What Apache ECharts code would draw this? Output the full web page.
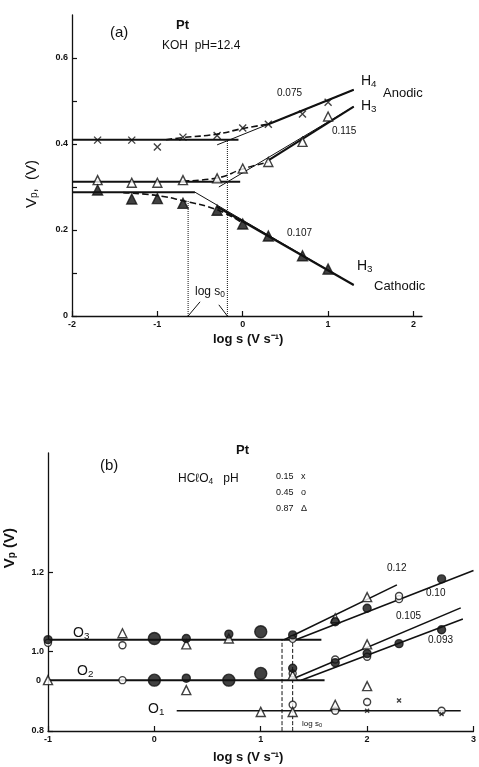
<!DOCTYPE html>
<html>
<head>
<meta charset="utf-8">
<script src="https://cdn.jsdelivr.net/npm/echarts@6/dist/echarts.min.js"></script>
<style>
  html, body { margin: 0; padding: 0; background: #fff; }
  #main { width: 479px; height: 767px; }
</style>
</head>
<body>
<div id="main"></div>
<script>
// ---- panel (a): Pt, KOH pH=12.4 ----
var aLogS = [-1.7, -1.3, -1, -0.7, -0.3, 0, 0.3, 0.7, 1.0];
var h4Anodic = [0.409, 0.409, 0.393, 0.416, 0.42, 0.437, 0.446, 0.47, 0.497];
var h3Anodic = [0.316, 0.31, 0.31, 0.316, 0.32, 0.343, 0.358, 0.405, 0.464];
var h3Cathodic = [0.293, 0.272, 0.273, 0.262, 0.246, 0.214, 0.186, 0.14, 0.109];

// fitted lines (log s, Vp)
var h4Flat = [[-2, 0.41], [-0.05, 0.41]];
var h4Tangent = [[-0.3, 0.398], [1.3, 0.526]];
var h4Thick = [[0.3, 0.446], [1.3, 0.526]];
var h3aFlat = [[-2, 0.312], [-0.03, 0.312]];
var h3aTangent = [[-0.28, 0.30], [1.3, 0.487]];
var h3aThick = [[0.3, 0.362], [1.3, 0.487]];
var h3cFlat = [[-2, 0.288], [-0.56, 0.288]];
var h3cTangent = [[-0.56, 0.288], [1.3, 0.072]];
var h3cThick = [[-0.3, 0.254], [1.3, 0.072]];
// dashed curves through the transition points
var h4Dash = [[-0.9, 0.41], [-0.7, 0.415], [-0.3, 0.423], [0, 0.436], [0.3, 0.446]];
var h3aDash = [[-0.7, 0.314], [-0.3, 0.321], [0, 0.342], [0.3, 0.358]];
var h3cDash = [[-1.4, 0.287], [-1, 0.28], [-0.7, 0.268], [-0.3, 0.247], [0, 0.216]];
// log s0 markers
var aS0Left = [[-0.64, 0], [-0.64, 0.27]];
var aS0Right = [[-0.18, 0], [-0.18, 0.41]];
var aBracketL = [[-0.64, 0], [-0.5, 0.033]];
var aBracketR = [[-0.18, 0], [-0.28, 0.026]];

// ---- panel (b): Pt, HClO4 ----
var bFilled = [[-1, 1.03], [0.3, 1.033], [0.7, 1.044], [1.3, 1.042], [1.7, 1.075], [2.0, 1.109], [2.7, 1.183],
  [0.3, 0.933], [1.3, 0.958], [1.7, 0.972], [2.0, 0.995], [2.3, 1.02], [2.7, 1.055]];
var bFilledBig = [[0, 1.033], [1.0, 1.05], [0, 0.928], [0.7, 0.928], [1.0, 0.945]];
var bOpen = [[-1, 1.022], [-0.3, 1.016], [1.3, 1.032], [2.3, 1.132], [2.3, 1.14],
  [-0.3, 0.928], [1.3, 0.945], [1.7, 0.98], [2.0, 0.987],
  [1.3, 0.866], [1.7, 0.851], [2.0, 0.873], [2.7, 0.851]];
var bTri = [[-0.3, 1.046], [0.3, 1.018], [0.7, 1.033], [1.7, 1.084], [2.0, 1.137],
  [-1, 0.928], [0.3, 0.903], [1.3, 0.94], [2.0, 1.018], [2.0, 0.913],
  [1.0, 0.848], [1.3, 0.848], [1.7, 0.866]];
var bCross = [[2.0, 0.851], [2.3, 0.877], [2.7, 0.843]];

var o3Flat = [[-1, 1.03], [1.57, 1.03]];
var o3Fit012 = [[1.22, 1.03], [2.28, 1.168]];
var o3Fit010 = [[1.33, 1.03], [3.0, 1.204]];
var o2Flat = [[-1, 0.928], [1.6, 0.928]];
var o2Fit0105 = [[1.27, 0.928], [2.88, 1.11]];
var o2Fit0093 = [[1.38, 0.928], [2.9, 1.082]];
var o1Flat = [[0.21, 0.851], [2.88, 0.851]];
var bS0Left = [[1.2, 0.8], [1.2, 1.03]];
var bS0Right = [[1.3, 0.8], [1.3, 1.03]];

var FONT = 'Liberation Sans';
var INK = '#111';
var crossPath = 'path://M0,0L10,10M10,0L0,10';

function line(data, idx, width, type) {
  return {
    type: 'line', xAxisIndex: idx, yAxisIndex: idx, data: data,
    symbol: 'none', smooth: type === 'dashed', silent: true, z: 2,
    lineStyle: { color: INK, width: width, type: type || 'solid' }
  };
}
function pts(data, idx, symbol, size, open) {
  return {
    type: 'scatter', xAxisIndex: idx, yAxisIndex: idx, data: data,
    symbol: symbol, symbolSize: size, z: 5,
    itemStyle: { color: open ? '#fff' : INK, borderColor: INK, borderWidth: 1.4 }
  };
}
function zip(xs, ys) {
  return xs.map(function (x, i) { return [x, ys[i]]; });
}

function axisCommon() {
  return {
    axisLine: { onZero: false, lineStyle: { color: INK, width: 1.3 } },
    axisTick: { inside: true, length: 5, lineStyle: { color: INK, width: 1.2 } },
    splitLine: { show: false },
    axisLabel: { color: INK, fontSize: 9, fontFamily: FONT, fontWeight: 'bold', margin: 4 }
  };
}

function xAx(idx, min, max, ticks) {
  var a = axisCommon();
  a.type = 'value'; a.gridIndex = idx; a.min = min; a.max = max;
  a.axisTick.customValues = ticks;
  a.axisLabel.customValues = ticks;
  return a;
}
function yAx(idx, min, max, ticks, labels, fmt) {
  var a = axisCommon();
  a.type = 'value'; a.gridIndex = idx; a.min = min; a.max = max;
  a.axisTick.customValues = ticks;
  a.axisLabel.customValues = labels;
  a.axisLabel.formatter = fmt;
  return a;
}

function txt(x, y, text, size, extra) {
  var s = { text: text, fontSize: size, fontFamily: FONT, fill: INK,
    rich: {
      s: { fontSize: size * 0.7, fontFamily: FONT, verticalAlign: 'bottom', padding: [size * 0.45, 0, 0, 0] },
      b: { fontSize: size, fontFamily: FONT }
    } };
  for (var k in extra) s[k] = extra[k];
  return { type: 'text', left: x, top: y, style: s, z: 10 };
}

var myChart = echarts.init(document.getElementById('main'));
myChart.setOption({
  backgroundColor: '#fff',
  animation: false,
  grid: [
    { left: 72, top: 15, width: 350, height: 301 },
    { left: 48, top: 453, width: 427, height: 278 }
  ],
  xAxis: [
    xAx(0, -2, 2.1, [-2, -1, 0, 1, 2]),
    xAx(1, -1, 3, [-1, 0, 1, 2, 3])
  ],
  yAxis: [
    yAx(0, 0, 0.7, [0, 0.1, 0.2, 0.3, 0.4, 0.5, 0.6], [0, 0.2, 0.4, 0.6],
      function (v) { return v === 0 ? '0' : v.toFixed(1); }),
    yAx(1, 0.8, 1.5, [0.8, 1.0, 1.2], [0.8, 1.0, 1.2],
      function (v) { return v.toFixed(1); })
  ],
  series: [
    // panel (a) lines
    line(h4Flat, 0, 2), line(h4Tangent, 0, 1), line(h4Thick, 0, 2.2), line(h4Dash, 0, 1.6, 'dashed'),
    line(h3aFlat, 0, 2), line(h3aTangent, 0, 1), line(h3aThick, 0, 2.2), line(h3aDash, 0, 1.6, 'dashed'),
    line(h3cFlat, 0, 2), line(h3cTangent, 0, 1), line(h3cThick, 0, 2.2), line(h3cDash, 0, 1.6, 'dashed'),
    line(aS0Left, 0, 1, 'dotted'), line(aS0Right, 0, 1, 'dotted'),
    line(aBracketL, 0, 1), line(aBracketR, 0, 1),
    // panel (a) points
    pts(zip(aLogS, h4Anodic), 0, crossPath, 7, false),
    pts(zip(aLogS, h3Anodic), 0, 'triangle', 9, true),
    pts(zip(aLogS, h3Cathodic), 0, 'triangle', 10, false),
    // panel (b) lines
    line(o3Flat, 1, 2), line(o3Fit012, 1, 1.6), line(o3Fit010, 1, 1.6),
    line(o2Flat, 1, 2), line(o2Fit0105, 1, 1.6), line(o2Fit0093, 1, 1.6),
    line(o1Flat, 1, 1.6),
    line(bS0Left, 1, 1, 'dashed'), line(bS0Right, 1, 1, 'dashed'),
    // panel (b) points
    pts(bOpen, 1, 'circle', 7, true),
    pts(bTri, 1, 'triangle', 9, true),
    pts(bFilled, 1, 'circle', 8, false),
    pts(bFilledBig, 1, 'circle', 12, false),
    pts(bCross, 1, crossPath, 4, false)
  ],
  graphic: [
    // panel (a) annotations
    txt(110, 25, '(a)', 15),
    txt(176, 19, 'Pt', 13, { fontWeight: 'bold' }),
    txt(162, 40, 'KOH  pH=12.4', 12),
    txt(277, 88, '0.075', 10),
    txt(361, 74, '{b|H}{s|4}', 14),
    txt(383, 87, 'Anodic', 13),
    txt(361, 99, '{b|H}{s|3}', 14),
    txt(332, 126, '0.115', 10),
    txt(287, 228, '0.107', 10),
    txt(357, 259, '{b|H}{s|3}', 14),
    txt(374, 280, 'Cathodic', 13),
    txt(195, 286, '{b|log s}{s|0}', 12),
    txt(213, 333, 'log s (V s\u207B\u00B9)', 13, { fontWeight: 'bold' }),
    { type: 'text', left: 24, top: 160, rotation: Math.PI / 2, z: 10,
      style: { text: '{b|V}{s|p}{b|,  (V)}', fill: INK,
        rich: { b: { fontSize: 15, fontFamily: FONT }, s: { fontSize: 10, fontFamily: FONT, padding: [6, 0, 0, 0] } } } },
    // panel (b) annotations
    txt(100, 458, '(b)', 15),
    txt(236, 444, 'Pt', 13, { fontWeight: 'bold' }),
    txt(178, 473, '{b|HC\u2113O}{s|4}{b|   pH}', 12),
    txt(276, 472, '0.15   x', 9),
    txt(276, 488, '0.45   o', 9),
    txt(276, 504, '0.87   \u0394', 9),
    txt(73, 626, '{b|O}{s|3}', 14),
    txt(77, 664, '{b|O}{s|2}', 14),
    txt(148, 702, '{b|O}{s|1}', 14),
    txt(387, 563, '0.12', 10),
    txt(426, 588, '0.10', 10),
    txt(396, 611, '0.105', 10),
    txt(428, 635, '0.093', 10),
    txt(302, 720, '{b|log s}{s|0}', 8),
    txt(36, 676, '0', 9, { fontWeight: 'bold' }),
    txt(213, 751, 'log s (V s\u207B\u00B9)', 13, { fontWeight: 'bold' }),
    { type: 'text', left: 2, top: 528, rotation: Math.PI / 2, z: 10,
      style: { text: '{b|V}{s|p}{b| (V)}', fill: INK,
        rich: { b: { fontSize: 15, fontFamily: FONT, fontWeight: 'bold' }, s: { fontSize: 10, fontFamily: FONT, fontWeight: 'bold', padding: [6, 0, 0, 0] } } } }
  ]
});
</script>
</body>
</html>
